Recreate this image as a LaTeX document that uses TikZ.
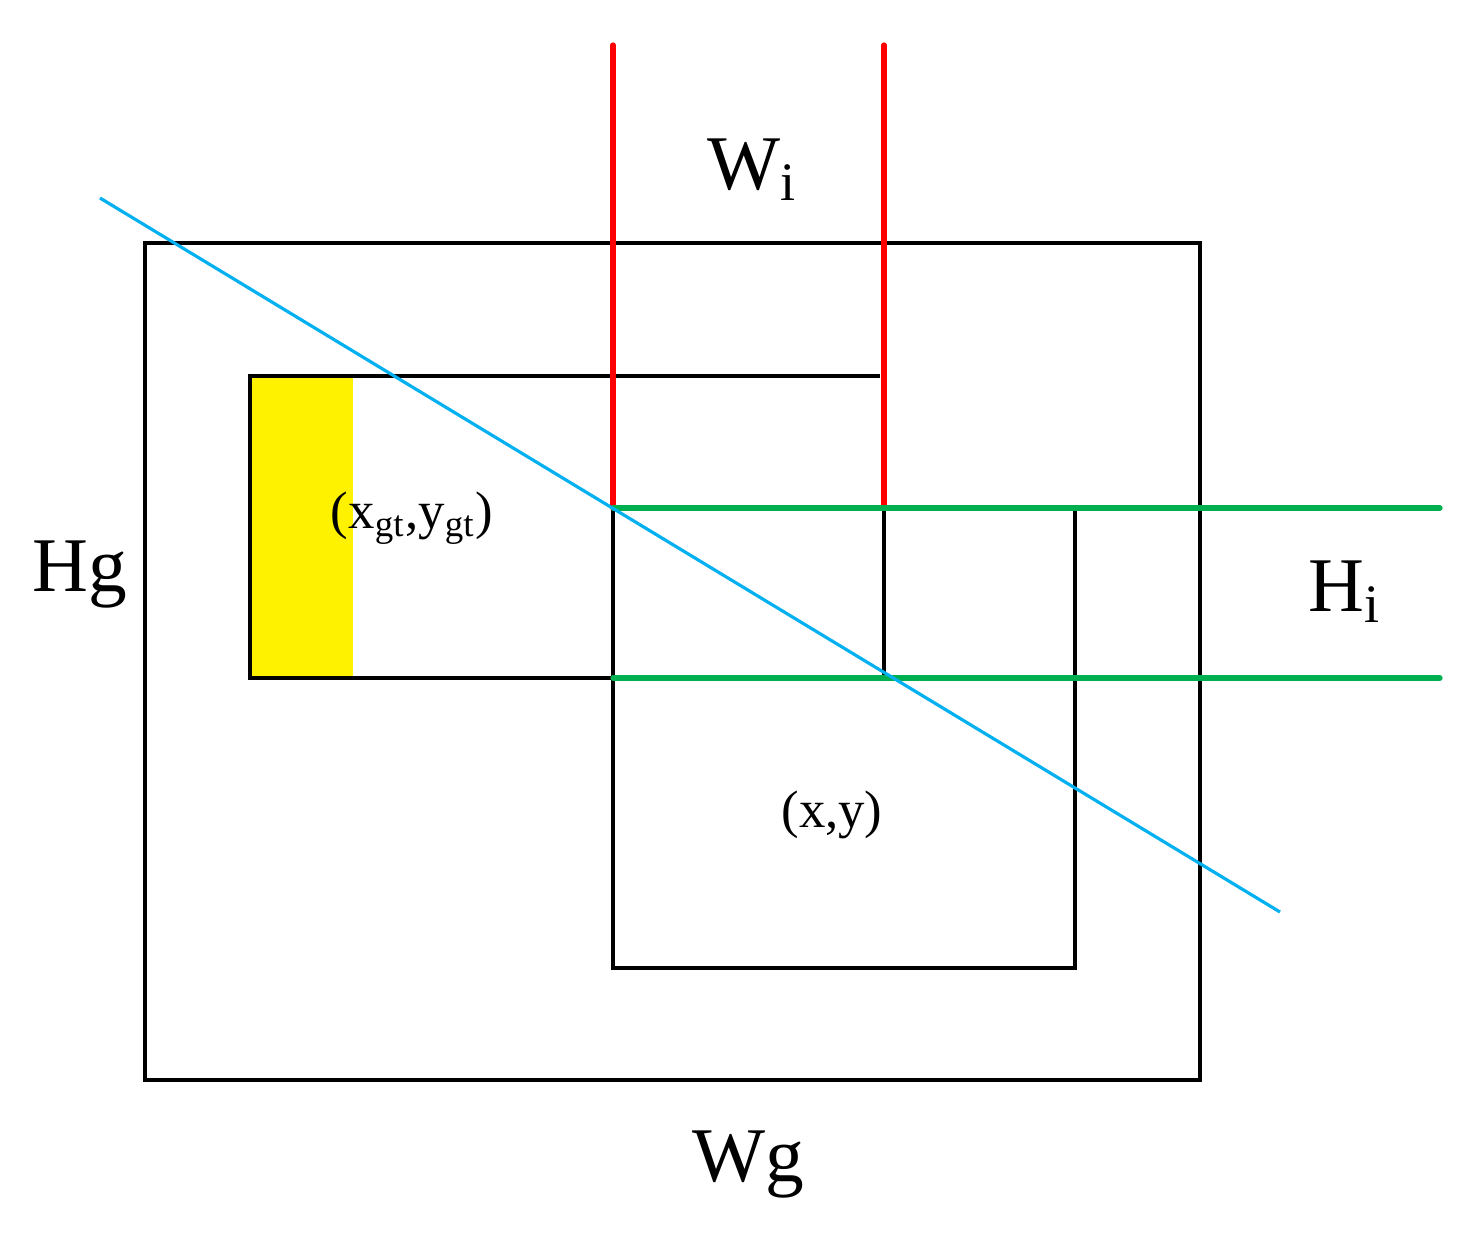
\documentclass[tikz,border=0pt]{standalone}
\usepackage{fontspec}
\setmainfont{Liberation Serif}
\begin{document}
\begin{tikzpicture}[x=0.01cm,y=-0.01cm,
 blk/.style={draw=black,line width=1.1pt},
 red/.style={draw=red,line width=1.5pt,line cap=round},
 grn/.style={draw={rgb,255:red,0;green,176;blue,80},line width=1.5pt,line cap=round},
 blu/.style={draw={rgb,255:red,0;green,176;blue,240},line width=0.9pt},
 big/.style={font=\fontsize{22}{25}\selectfont},
 mid/.style={font=\fontsize{15}{18}\selectfont}]
\useasboundingbox (0,0) rectangle (1462,1244);
\fill[yellow] (252,378) rectangle (353,678);
\draw[blk] (145,243) rectangle (1200,1080);
\draw[blk] (880,376) -- (250,376) -- (250,678) -- (613,678);
\draw[blk] (613,508) rectangle (1075,968);
\draw[blk] (884,508) -- (884,678);
\draw[red] (613,45) -- (613,508);
\draw[red] (884,45) -- (884,508);
\draw[grn] (613,508) -- (1440,508);
\draw[grn] (613,678) -- (1440,678);
\draw[blu] (100,198) -- (1280,912);
\node[big] (wi) at (752,170) {W\textsubscript{i}};
\node[big] (hg) at (80,575) {Hg};
\node[big] (hi) at (1345,592) {H\textsubscript{i}};
\node[big] (wg) at (748,1165) {Wg};
\node[mid] (xgt) at (412,518) {(x\textsubscript{gt},y\textsubscript{gt})};
\node[mid] (xy) at (832,815) {(x,y)};
\end{tikzpicture}
\end{document}
